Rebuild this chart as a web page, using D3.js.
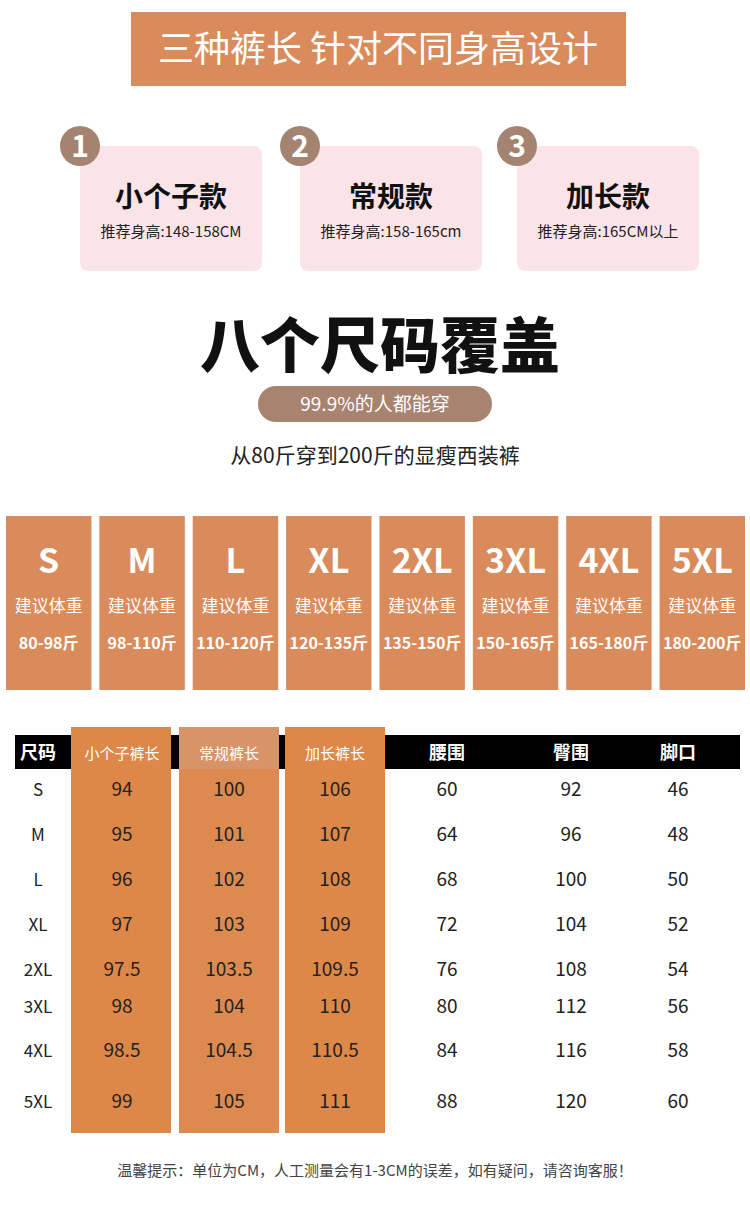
<!DOCTYPE html><html><head><meta charset="utf-8"><script src="https://cdn.jsdelivr.net/npm/d3@7"></script>
<style>body{margin:0;background:#fff}svg{display:block;font-family:"Noto Sans CJK SC",sans-serif}</style></head><body>
<script>
const cards=[{n:"1",t:"小个子款",s:"推荐身高:148-158CM"},{n:"2",t:"常规款",s:"推荐身高:158-165cm"},{n:"3",t:"加长款",s:"推荐身高:165CM以上"}];
const sizes=["S","M","L","XL","2XL","3XL","4XL","5XL"];
const weights=["80-98斤","98-110斤","110-120斤","120-135斤","135-150斤","150-165斤","165-180斤","180-200斤"];
const headers=["尺码","小个子裤长","常规裤长","加长裤长","腰围","臀围","脚口"];
const shortLen=[94,95,96,97,97.5,98,98.5,99];
const regLen=[100,101,102,103,103.5,104,104.5,105];
const longLen=[106,107,108,109,109.5,110,110.5,111];
const waist=[60,64,68,72,76,80,84,88];
const hip=[92,96,100,104,108,112,116,120];
const hem=[46,48,50,52,54,56,58,60];
const rowY=[789,834,879,924,969,1006,1050,1101];

const svg=d3.select("body").append("svg").attr("width",750).attr("height",1224);
const O="#d98b5c";
svg.append("rect").attr("x",131).attr("y",12).attr("width",495).attr("height",74).attr("fill",O);
svg.append("text").attr("x",378).attr("y",62).attr("text-anchor","middle").attr("fill","#fff").attr("font-size",36).text("三种裤长 针对不同身高设计");

const cx=d3.scaleOrdinal().domain(cards.map(d=>d.n)).range([80,300,517]);
const cg=svg.selectAll("g.card").data(cards).join("g").attr("transform",d=>`translate(${cx(d.n)},0)`);
cg.append("rect").attr("y",146).attr("width",182).attr("height",125).attr("rx",8).attr("fill","#fbe4e8");
cg.append("circle").attr("cx",0).attr("cy",146).attr("r",20).attr("fill","#a48471");
cg.append("text").attr("x",0).attr("y",157).attr("text-anchor","middle").attr("fill","#fff").attr("font-size",30).attr("font-weight","bold").text(d=>d.n);
cg.append("text").attr("x",91).attr("y",207).attr("text-anchor","middle").attr("font-size",28).attr("font-weight","bold").attr("fill","#111").text(d=>d.t);
cg.append("text").attr("x",91).attr("y",237).attr("text-anchor","middle").attr("font-size",15).attr("fill","#222").text(d=>d.s);

svg.append("text").attr("x",380).attr("y",368).attr("text-anchor","middle").attr("font-size",60).attr("font-weight","900").attr("fill","#111").text("八个尺码覆盖");
svg.append("rect").attr("x",258).attr("y",386).attr("width",234).attr("height",36).attr("rx",18).attr("fill","#a88370");
svg.append("text").attr("x",375).attr("y",411).attr("text-anchor","middle").attr("font-size",19).attr("fill","#fff").text("99.9%的人都能穿");
svg.append("text").attr("x",375).attr("y",463).attr("text-anchor","middle").attr("font-size",21).attr("fill","#222").text("从80斤穿到200斤的显瘦西装裤");

const sx=d3.scaleBand().domain(sizes).range([6,745]).paddingInner(0.085);
const sg=svg.selectAll("g.sz").data(sizes).join("g").attr("transform",d=>`translate(${sx(d)},0)`);
sg.append("rect").attr("y",516).attr("width",sx.bandwidth()).attr("height",174).attr("fill",O);
const bw=sx.bandwidth()/2;
sg.append("text").attr("x",bw).attr("y",573).attr("text-anchor","middle").attr("fill","#fff").attr("font-size",34).attr("font-weight","bold").text(d=>d);
sg.append("text").attr("x",bw).attr("y",612).attr("text-anchor","middle").attr("fill","#fff").attr("font-size",17).text("建议体重");
sg.append("text").attr("x",bw).attr("y",649).attr("text-anchor","middle").attr("fill","#fff").attr("font-size",16).attr("font-weight","bold").text((d,i)=>weights[i]);

// table
svg.append("rect").attr("x",15).attr("y",735).attr("width",725).attr("height",34).attr("fill","#000");
const colX=[38,122,229,335,447,571,678];
const TC="#dd8749";
[[71,171],[179,279],[285,385]].forEach(([a,b],i)=>svg.append("rect").attr("x",a).attr("y",727).attr("width",b-a).attr("height",406).attr("fill",i==1?"#dc8a50":TC));
svg.append("rect").attr("x",179).attr("y",727).attr("width",100).attr("height",42).attr("fill","#d79468");
svg.selectAll("text.h").data(headers).join("text").attr("x",(d,i)=>colX[i]).attr("y",759).attr("text-anchor","middle").attr("fill","#fff").attr("font-size",(d,i)=>i==0||i>3?18:15).attr("font-weight",(d,i)=>i==0||i>3?"bold":"normal").text(d=>d);
const cols=[sizes,shortLen,regLen,longLen,waist,hip,hem];
cols.forEach((col,ci)=>{
 svg.selectAll(null).data(col).join("text").attr("x",colX[ci]).attr("y",(d,i)=>rowY[i]+7).attr("text-anchor","middle").attr("font-size",ci==0?17:19).attr("fill","#222").text(d=>d);
});
svg.append("text").attr("x",375).attr("y",1176).attr("text-anchor","middle").attr("font-size",15).attr("fill","#444").text("温馨提示：单位为CM，人工测量会有1-3CM的误差，如有疑问，请咨询客服！");
</script></body></html>
